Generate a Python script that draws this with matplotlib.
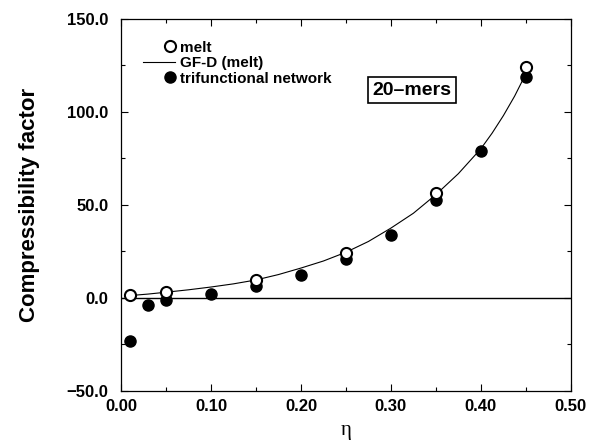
import matplotlib
matplotlib.use("Agg")
import matplotlib.pyplot as plt
from matplotlib.ticker import MultipleLocator, FuncFormatter
from matplotlib.lines import Line2D
from matplotlib.legend_handler import HandlerLine2D

# Data
eta_melt = [0.01, 0.05, 0.15, 0.25, 0.35, 0.45]
z_melt = [1.3, 3.0, 9.4, 24.3, 56.4, 124.0]

eta_net = [0.01, 0.03, 0.05, 0.10, 0.15, 0.20, 0.25, 0.30, 0.35, 0.40, 0.45]
z_net = [-23.2, -3.7, -1.3, 2.0, 6.2, 12.1, 21.1, 33.6, 52.5, 79.0, 118.8]

eta_gfd = [0.01, 0.03, 0.05, 0.075, 0.10, 0.125, 0.15, 0.175, 0.20, 0.225,
           0.25, 0.275, 0.30, 0.325, 0.35, 0.375, 0.40, 0.4125, 0.425,
           0.4375, 0.45]
z_gfd = [1.2, 2.0, 3.0, 4.3, 5.8, 7.5, 9.6, 12.5, 16.0, 19.8,
         24.5, 30.3, 37.5, 45.5, 55.5, 66.8, 80.2, 88.6, 98.0,
         108.5, 120.5]

xticks = [0.00, 0.10, 0.20, 0.30, 0.40, 0.50]
yticks = [-50.0, 0.0, 50.0, 100.0, 150.0]

plt.rcParams['font.family'] = ['Liberation Sans', 'DejaVu Sans']
plt.rcParams['font.weight'] = 'bold'


class RightMarkerHandler(HandlerLine2D):
    def get_xdata(self, legend, xdescent, ydescent, width, height, fontsize):
        xm = -xdescent + width - 0.33 * fontsize
        return [xm, xm], [xm]


fig = plt.figure(figsize=(5.99, 4.42), dpi=100)
ax = fig.add_axes([0.202, 0.116, 0.751, 0.841])

ax.axhline(0, color='black', lw=1.0, zorder=1)
ax.plot(eta_gfd, z_gfd, color='black', lw=0.8, zorder=2)
ax.plot(eta_net, z_net, 'o', color='black', ms=8, zorder=3)
ax.plot(eta_melt, z_melt, 'o', mfc='white', mec='black', mew=1.5, ms=8, zorder=4)

ax.set_xlim(0, 0.5)
ax.set_ylim(-50, 150)
ax.set_xticks(xticks)
ax.set_yticks(yticks)
ax.xaxis.set_minor_locator(MultipleLocator(0.05))
ax.yaxis.set_minor_locator(MultipleLocator(25))
ax.xaxis.set_major_formatter(FuncFormatter(lambda v, p: f'{v:.2f}'))
ax.yaxis.set_major_formatter(FuncFormatter(lambda v, p: f'{v:.1f}'.replace('-', '\u2212')))
ax.tick_params(which='both', direction='in', top=True, right=True, width=0.8)
ax.tick_params(which='major', length=5, labelsize=12)
ax.tick_params(which='minor', length=3)
ax.tick_params(axis='x', pad=6)
ax.tick_params(axis='y', pad=9)
for lab in ax.get_xticklabels() + ax.get_yticklabels():
    lab.set_fontweight('bold')
for s in ax.spines.values():
    s.set_linewidth(0.9)

ax.set_ylabel('Compressibility factor', fontsize=16, fontweight='bold', labelpad=19)
ax.set_xlabel('η', fontsize=15, fontweight='normal', family='Liberation Serif', labelpad=5)

h_melt = Line2D([], [], marker='o', ls='none', mfc='white', mec='black', mew=1.5, ms=8)
h_gfd = Line2D([], [], color='black', lw=0.8)
h_net = Line2D([], [], marker='o', ls='none', color='black', ms=8)
handles = [h_melt, h_gfd, h_net]
labels = ['melt', 'GF-D (melt)', 'trifunctional network']
leg = ax.legend(handles, labels, loc='upper left', bbox_to_anchor=(0.049, 0.942),
                frameon=False, fontsize=11, handlelength=2.1, handletextpad=0.35,
                labelspacing=0.1, borderaxespad=0, borderpad=0,
                handler_map={h_melt: RightMarkerHandler(), h_net: RightMarkerHandler()})
for t in leg.get_texts():
    t.set_fontweight('bold')

ax.text(0.647, 0.809, '20–mers', transform=ax.transAxes, fontsize=14,
        fontweight='bold', ha='center', va='center',
        bbox=dict(boxstyle='square,pad=0.25', fc='white', ec='black', lw=1.2))

fig.savefig('out.png', dpi=100)
